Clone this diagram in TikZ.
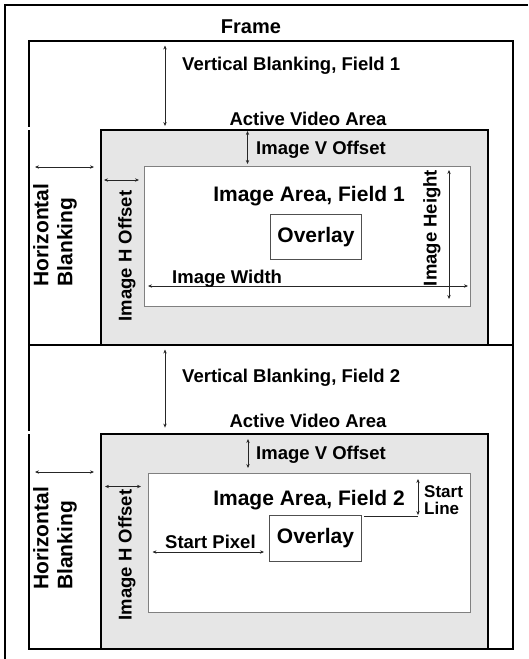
\documentclass[tikz,border=0pt]{standalone}
\usepackage{fontspec}
\setmainfont{Liberation Sans}
\usetikzlibrary{arrows.meta}
\definecolor{actgray}{HTML}{E6E6E6}
\definecolor{imgedge}{HTML}{808080}
\definecolor{ovledge}{HTML}{505050}
\begin{document}
\begin{tikzpicture}[x=1pt,y=-1pt,
  txt/.style={font=\bfseries\fontsize{18.5}{21}\selectfont, inner sep=0pt},
  bigtxt/.style={font=\bfseries\fontsize{21}{24}\selectfont, inner sep=0pt},
  smalltxt/.style={font=\bfseries\fontsize{17}{17}\selectfont, inner sep=0pt},
  dimarrow/.style={{Stealth[length=4pt,width=3.4pt]}-{Stealth[length=4pt,width=3.4pt]}, line width=0.8pt, black!85},
  fieldbox/.style={draw, line width=1.5pt, inner sep=0pt, anchor=north west},
  activebox/.style={draw, fill=actgray, line width=1.5pt, inner sep=0pt, anchor=north west},
  imagebox/.style={draw=imgedge, fill=white, line width=1pt, inner sep=0pt, anchor=north west},
  overlaybox/.style={draw=ovledge, line width=0.9pt, inner sep=0pt, anchor=north west,
     font=\bfseries\fontsize{21}{24}\selectfont},
]
\useasboundingbox (0,0) rectangle (528,659);

% outer frame (top and left)
\coordinate (fr1) at (5,659);
\coordinate (fr2) at (5,5);
\coordinate (fr3) at (528,5);
\draw[line width=1.8pt] (fr1) -- (fr2) -- (fr3);
\node[txt, font=\bfseries\fontsize{20}{22}\selectfont, anchor=base] (frame) at (251,33) {Frame};

% ---------------- Field 1 ----------------
\node[fieldbox, minimum width=484pt, minimum height=304pt] (f1) at (28,40) {};
\fill[white] (26,127.3) rectangle (30,129.8);
\node[activebox, minimum width=387pt, minimum height=215pt] (av1) at (100,129) {};
\node[imagebox, minimum width=326pt, minimum height=140pt] (ia1) at (144,166) {};
\node[overlaybox, minimum width=91pt, minimum height=45pt] (ov1) at (270,214) {Overlay};

\coordinate (vb1a) at (165,45.5);  \coordinate (vb1b) at (165,126);
\draw[dimarrow] (vb1a) -- (vb1b);
\node[txt, anchor=base west] (vb1t) at (182,70) {Vertical Blanking, Field 1};
\node[txt, anchor=base] (av1t) at (308,125) {Active Video Area};

\coordinate (ivo1a) at (247.5,131); \coordinate (ivo1b) at (247.5,164);
\draw[dimarrow] (ivo1a) -- (ivo1b);
\node[txt, anchor=base west] (ivo1t) at (256,154) {Image V Offset};

\coordinate (hb1a) at (35,167); \coordinate (hb1b) at (94,167);
\draw[dimarrow] (hb1a) -- (hb1b);
\node[bigtxt, rotate=90, align=left, anchor=north west] (hb1t) at (33,286.5) {Horizontal\\Blanking};

\coordinate (iho1a) at (104,180); \coordinate (iho1b) at (139,180);
\draw[dimarrow] (iho1a) -- (iho1b);
\node[txt, rotate=90, anchor=base] (iho1t) at (131.5,256) {Image H Offset};

\node[bigtxt, anchor=base] (ia1t) at (309,201) {Image Area, Field 1};

\coordinate (iwa) at (148,286); \coordinate (iwb) at (468,286);
\draw[dimarrow] (iwa) -- (iwb);
\node[txt, anchor=base west] (iwt) at (172,283) {Image Width};

\coordinate (iha) at (449,170); \coordinate (ihb) at (449,299);
\draw[dimarrow] (iha) -- (ihb);
\node[txt, rotate=90, anchor=base] (iht) at (436.5,228) {Image Height};

% ---------------- Field 2 ----------------
\node[fieldbox, minimum width=484pt, minimum height=304pt] (f2) at (28,344) {};
\fill[white] (26,431.3) rectangle (30,433.8);
\node[activebox, minimum width=387pt, minimum height=215pt] (av2) at (100,433) {};
\node[imagebox, minimum width=322pt, minimum height=139pt] (ia2) at (148,473) {};
\node[overlaybox, minimum width=92pt, minimum height=46pt] (ov2) at (269,515) {Overlay};

\coordinate (vb2a) at (165,349.5);  \coordinate (vb2b) at (165,427.6);
\draw[dimarrow] (vb2a) -- (vb2b);
\node[txt, anchor=base west] (vb2t) at (182,382) {Vertical Blanking, Field 2};
\node[txt, anchor=base] (av2t) at (308,427) {Active Video Area};

\coordinate (ivo2a) at (248,439); \coordinate (ivo2b) at (248,468);
\draw[dimarrow] (ivo2a) -- (ivo2b);
\node[txt, anchor=base west] (ivo2t) at (256,459) {Image V Offset};

\coordinate (hb2a) at (35,472); \coordinate (hb2b) at (94,472);
\draw[dimarrow] (hb2a) -- (hb2b);
\node[bigtxt, rotate=90, align=left, anchor=north west] (hb2t) at (33,590) {Horizontal\\Blanking};

\coordinate (iho2a) at (105,486.5); \coordinate (iho2b) at (141,486.5);
\draw[dimarrow] (iho2a) -- (iho2b);
\node[txt, rotate=90, anchor=base] (iho2t) at (131.5,555) {Image H Offset};

\node[bigtxt, anchor=base] (ia2t) at (309,505) {Image Area, Field 2};

\coordinate (sla) at (418,479); \coordinate (slb) at (418,515);
\draw[dimarrow] (sla) -- (slb);
\coordinate (sll) at (364,516);
\draw[line width=0.8pt, black!85] (sll) -- (slb |- sll);
\node[smalltxt, align=left, anchor=north west] (slt) at (424,485) {Start\\Line};

\coordinate (spa) at (152.5,552); \coordinate (spb) at (264,552);
\draw[dimarrow] (spa) -- (spb);
\node[txt, anchor=base west] (spt) at (165,548.5) {Start Pixel};
\end{tikzpicture}
\end{document}
